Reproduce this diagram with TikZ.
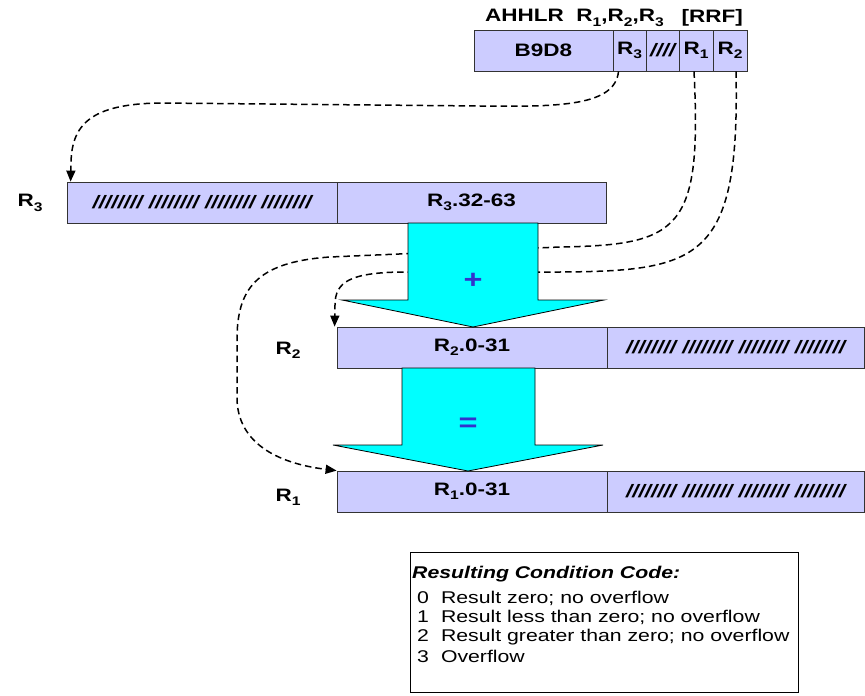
\documentclass[tikz,border=0pt]{standalone}
\usepackage{fontspec}
\setmainfont{Liberation Sans}[FakeStretch=1.25]
\usetikzlibrary{arrows.meta}
\definecolor{lav}{RGB}{204,204,255}
\definecolor{cyanarrow}{RGB}{0,255,255}
\definecolor{opblue}{RGB}{51,51,204}
\newcommand{\sbs}[1]{\raisebox{-0.45ex}{\fontsize{12.5}{12.5}\selectfont #1}}
\begin{document}
\begin{tikzpicture}[x=1pt,y=-1pt,
  cell/.style={draw=black!80,fill=lav,line width=0.8pt,inner sep=0pt,minimum height=41pt,
    font=\fontsize{18}{21}\selectfont\bfseries},
  hatch/.style={cell,font=\fontsize{18}{21}\selectfont\bfseries\itshape},
  lbl/.style={inner sep=0pt,font=\fontsize{18}{21}\selectfont\bfseries},
  conn/.style={line width=1.5pt,dash pattern=on 6.5pt off 4pt,-{Triangle[length=11pt,width=9pt]}},
  bigarrow/.style={fill=cyanarrow,draw=black,line width=0.8pt,line join=miter},
  opsign/.style={inner sep=0pt,text=opblue,font=\fontsize{26}{26}\selectfont\bfseries},
  legtxt/.style={inner sep=0pt,anchor=west,font=\fontsize{17}{19}\selectfont}
]
\useasboundingbox (0,0) rectangle (865,696);

% instruction format
\node[lbl,anchor=west] (mn) at (485,18) {AHHLR\ \ R\sbs{1},R\sbs{2},R\sbs{3}};
\node[lbl,anchor=east] (rrf) at (743,18) {[RRF]};
\node[cell,minimum width=139pt] (op) at (543.5,50.5) {B9D8};
\node[cell,minimum width=33pt] (R3c) at (629.5,50.5) {R\sbs{3}};
\node[hatch,minimum width=33pt] (xc) at (662.5,50.5) {////};
\node[cell,minimum width=34pt] (R1c) at (696,50.5) {R\sbs{1}};
\node[cell,minimum width=34pt] (R2c) at (730,50.5) {R\sbs{2}};

% registers
\node[lbl] (l3) at (30,203) {R\sbs{3}};
\node[hatch,minimum width=270pt] (R3a) at (202,202.5) {//////// //////// //////// ////////};
\node[cell,minimum width=269pt] (R3b) at (471.5,202.5) {R\sbs{3}.32-63};

\node[lbl] (l2) at (288,350) {R\sbs{2}};
\node[cell,minimum width=270pt] (R2a) at (472,347.5) {R\sbs{2}.0-31};
\node[hatch,minimum width=257pt] (R2b) at (735.5,347.5) {//////// //////// //////// ////////};

\node[lbl] (l1) at (288,497) {R\sbs{1}};
\node[cell,minimum width=270pt] (R1a) at (472,491.5) {R\sbs{1}.0-31};
\node[hatch,minimum width=257pt] (R1b) at (735.5,491.5) {//////// //////// //////// ////////};

% dashed connectors
\draw[conn] ([xshift=-11pt]R3c.south) .. controls (615,106) and (560,107) .. (480,106)
  -- (160,103) .. controls (90,104) and (71,125) .. (71,165) -- ([xshift=4pt]R3a.north west);
\draw[conn] ([xshift=-2pt]R1c.south) .. controls (702,230) and (680,245) .. (560,247)
  -- (330,257) .. controls (255,262) and (237,290) .. (237,340) -- (237,400)
  .. controls (239,450) and (290,465) .. (R1a.north west);
\draw[conn] ([xshift=6pt]R2c.south) .. controls (740,260) and (700,271) .. (560,272)
  -- (400,272) .. controls (350,273) and (335,282) .. (335,305) -- ([xshift=-2pt]R2a.north west);

% big arrows
\draw[bigarrow] (408,223) -- (538,223) -- (538,300) -- (604,300) -- (473,327) -- (342,300) -- (408,300) -- cycle;
\node[opsign] (plus) at (473,281) {+};
\draw[bigarrow] (402,368) -- (535,368) -- (535,445) -- (603,445) -- (468,471) -- (333,445) -- (402,445) -- cycle;
\node[opsign] (eq) at (468,425) {=};

% legend
\node[draw=black,line width=0.9pt,minimum width=388pt,minimum height=140pt,inner sep=0pt] (leg) at (604,622) {};
\node[legtxt,font=\fontsize{17}{19}\selectfont\bfseries\itshape] (lt) at (412,574) {Resulting Condition Code:};
\node[legtxt] (c0) at (417,598) {0\hspace{12pt}Result zero; no overflow};
\node[legtxt] (c1) at (417,617.5) {1\hspace{12pt}Result less than zero; no overflow};
\node[legtxt] (c2) at (417,637) {2\hspace{12pt}Result greater than zero; no overflow};
\node[legtxt] (c3) at (417,656.5) {3\hspace{12pt}Overflow};
\end{tikzpicture}
\end{document}
